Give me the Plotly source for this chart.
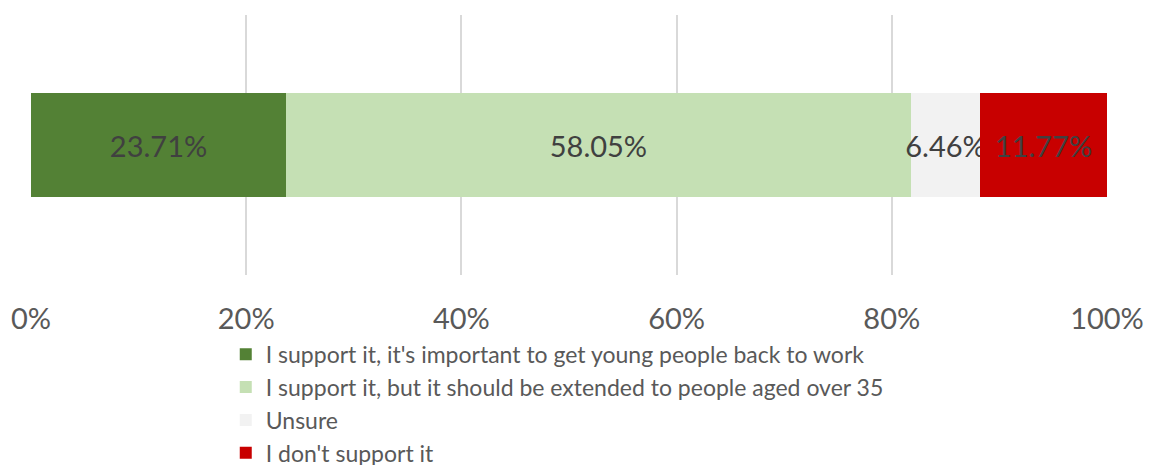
import plotly.graph_objects as go

categories = [""]
series_names = [
    "I support it, it's important to get young people back to work",
    "I support it, but it should be extended to people aged over 35",
    "Unsure",
    "I don't support it",
]
series_values = [23.71, 58.05, 6.46, 11.77]
series_colors = ["#538135", "#C5E0B4", "#F2F2F2", "#C80000"]
tick_vals = [0, 20, 40, 60, 80, 100]
tick_text = ["0%", "20%", "40%", "60%", "80%", "100%"]

FONT = "Lato, Carlito, Calibri, sans-serif"

fig = go.Figure()
for i, (name, val, col) in enumerate(zip(series_names, series_values, series_colors)):
    fig.add_trace(go.Bar(
        y=categories, x=[val], name=name, orientation="h",
        marker=dict(color=col, line=dict(width=0)),
        text=[f"{val:.2f}%"], textposition="inside", insidetextanchor="middle",
        textangle=0, constraintext="none", cliponaxis=False,
        textfont=dict(family=FONT, size=29, color="#404040"),
        legendgroup=str(i),
        hoverinfo="skip",
    ))

fig.update_layout(
    barmode="stack",
    bargap=0.6,
    width=1146, height=457,
    margin=dict(l=23, r=47, t=7, b=190, autoexpand=False),
    paper_bgcolor="white", plot_bgcolor="white",
    font=dict(family=FONT, color="#595959"),
    showlegend=True,
    legend=dict(
        orientation="v", x=0.181, xanchor="left", y=-0.222, yanchor="top",
        font=dict(family=FONT, size=23, color="#595959"),
        traceorder="grouped", tracegroupgap=0,
        itemwidth=30, bgcolor="rgba(0,0,0,0)",
    ),
    xaxis=dict(
        range=[0, 100], tickvals=tick_vals, ticktext=tick_text,
        showgrid=True, gridcolor="#D9D9D9", gridwidth=1.5,
        zeroline=False, showline=False, automargin=False,
        ticks="outside", ticklen=18, tickcolor="rgba(0,0,0,0)",
        tickfont=dict(family=FONT, size=29, color="#595959"),
    ),
    yaxis=dict(showticklabels=False, showgrid=False, zeroline=False,
               range=[-0.5, 0.5], automargin=False),
)

fig.write_html("out.html")
